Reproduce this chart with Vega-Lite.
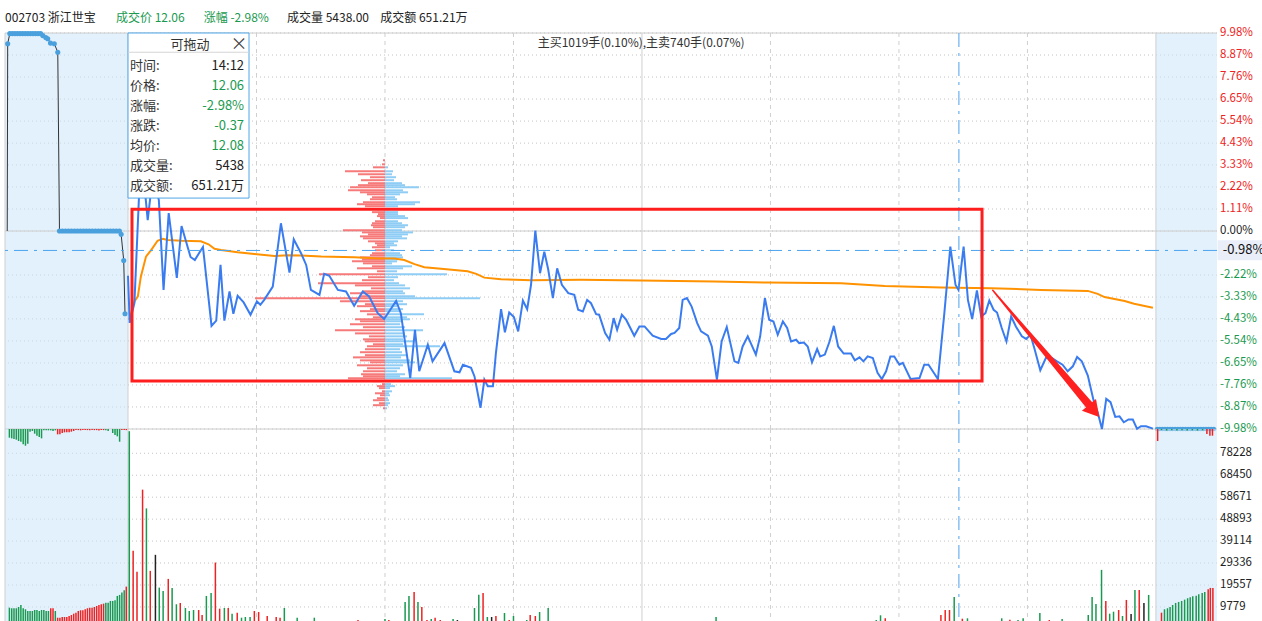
{
"$schema": "https://vega.github.io/schema/vega-lite/v6.json",
"padding": {"left": 4, "top": 12, "right": 0, "bottom": 0},
"spacing": 0,
"bounds": "flush",
"config": {"view": {"stroke": null}, "font": "Noto Sans CJK SC", "legend": {"disable": true}},
"datasets": {
"price": [{"t":0,"p":-2.26},{"t":0.4,"p":-4.63},{"t":1.5,"p":-3.62},{"t":2.6,"p":1.91},{"t":3.5,"p":3.07},{"t":4.6,"p":0.55},{"t":5.8,"p":2.82},{"t":7.2,"p":1.56},{"t":8.3,"p":-2.97},{"t":9.5,"p":0.9},{"t":11.4,"p":-2.36},{"t":12.5,"p":0.25},{"t":14.6,"p":-1.31},{"t":15.6,"p":-1.46},{"t":17.5,"p":-0.8},{"t":19.5,"p":-4.78},{"t":20.6,"p":-4.52},{"t":21.6,"p":-1.71},{"t":22.5,"p":-4.52},{"t":23.7,"p":-3.05},{"t":24.6,"p":-4.17},{"t":25.6,"p":-3.27},{"t":27.0,"p":-3.6},{"t":28.6,"p":-4.22},{"t":30.1,"p":-3.55},{"t":30.9,"p":-3.72},{"t":31.8,"p":-3.47},{"t":33.8,"p":-2.8},{"t":35.7,"p":0.39},{"t":37.7,"p":-2.1},{"t":38.7,"p":-0.42},{"t":39.6,"p":-0.79},{"t":40.4,"p":-1.12},{"t":41.6,"p":-1.71},{"t":42.7,"p":-2.97},{"t":44.7,"p":-3.22},{"t":45.8,"p":-2.16},{"t":47.0,"p":-2.26},{"t":49.0,"p":-2.97},{"t":50.9,"p":-3.05},{"t":52.8,"p":-3.77},{"t":54.8,"p":-3.05},{"t":56.3,"p":-3.3},{"t":58.3,"p":-4.14},{"t":59.8,"p":-4.44},{"t":62.6,"p":-3.52},{"t":63.7,"p":-4.14},{"t":65.9,"p":-7.41},{"t":67.0,"p":-4.98},{"t":68.0,"p":-7.07},{"t":70.0,"p":-5.73},{"t":71.1,"p":-6.57},{"t":73.9,"p":-5.65},{"t":76.2,"p":-7.07},{"t":77.4,"p":-7.12},{"t":78.2,"p":-6.74},{"t":80.1,"p":-6.9},{"t":80.9,"p":-7.33},{"t":82.3,"p":-8.91},{"t":83.2,"p":-7.49},{"t":84.0,"p":-7.83},{"t":85.2,"p":-7.83},{"t":85.9,"p":-6.15},{"t":87.1,"p":-3.94},{"t":88.0,"p":-5.11},{"t":89.0,"p":-4.11},{"t":90.1,"p":-4.34},{"t":91.1,"p":-5.06},{"t":92.2,"p":-3.5},{"t":93.2,"p":-3.94},{"t":94.1,"p":-2.71},{"t":95.1,"p":0.02},{"t":96.2,"p":-2.13},{"t":97.2,"p":-1.04},{"t":98.1,"p":-1.93},{"t":99.2,"p":-3.38},{"t":100.2,"p":-1.88},{"t":101.3,"p":-2.71},{"t":102.8,"p":-3.13},{"t":104.2,"p":-3.22},{"t":105.1,"p":-3.97},{"t":106.2,"p":-4.06},{"t":107.2,"p":-3.47},{"t":108.1,"p":-3.64},{"t":109.3,"p":-4.19},{"t":110.0,"p":-4.22},{"t":111.4,"p":-5.14},{"t":112.4,"p":-5.48},{"t":113.4,"p":-4.39},{"t":114.2,"p":-4.98},{"t":115.3,"p":-4.22},{"t":116.3,"p":-4.47},{"t":118.2,"p":-5.28},{"t":119.4,"p":-4.81},{"t":120.6,"p":-4.81},{"t":122.5,"p":-5.28},{"t":124.5,"p":-5.44},{"t":125.6,"p":-5.44},{"t":126.8,"p":-5.19},{"t":127.6,"p":-5.14},{"t":128.7,"p":-4.89},{"t":129.5,"p":-3.47},{"t":130.5,"p":-3.38},{"t":131.6,"p":-3.81},{"t":132.9,"p":-4.64},{"t":133.8,"p":-5.06},{"t":135.4,"p":-5.28},{"t":136.3,"p":-5.82},{"t":137.5,"p":-7.49},{"t":138.6,"p":-5.57},{"t":139.8,"p":-4.84},{"t":141.6,"p":-6.57},{"t":142.5,"p":-6.65},{"t":143.5,"p":-5.82},{"t":144.7,"p":-5.31},{"t":146.6,"p":-6.23},{"t":147.6,"p":-5.31},{"t":148.7,"p":-3.38},{"t":149.7,"p":-4.47},{"t":150.7,"p":-4.56},{"t":151.7,"p":-5.23},{"t":152.9,"p":-4.56},{"t":153.9,"p":-4.89},{"t":154.8,"p":-5.57},{"t":156.0,"p":-5.48},{"t":156.7,"p":-5.65},{"t":157.8,"p":-5.62},{"t":158.7,"p":-5.82},{"t":159.7,"p":-6.62},{"t":160.9,"p":-5.95},{"t":161.6,"p":-6.32},{"t":162.7,"p":-6.23},{"t":163.8,"p":-5.57},{"t":164.8,"p":-4.78},{"t":165.8,"p":-5.82},{"t":167.1,"p":-6.18},{"t":168.8,"p":-6.18},{"t":169.7,"p":-6.52},{"t":170.8,"p":-6.37},{"t":171.7,"p":-6.57},{"t":172.7,"p":-6.32},{"t":173.9,"p":-6.4},{"t":175.0,"p":-7.15},{"t":176.0,"p":-7.46},{"t":177.0,"p":-7.07},{"t":178.0,"p":-6.32},{"t":178.9,"p":-6.32},{"t":180.1,"p":-6.74},{"t":180.9,"p":-6.65},{"t":182.7,"p":-7.46},{"t":184.8,"p":-7.41},{"t":185.9,"p":-6.74},{"t":186.9,"p":-6.74},{"t":187.9,"p":-7.07},{"t":189.1,"p":-7.46},{"t":190.6,"p":-4.14},{"t":192.0,"p":-0.79},{"t":193.2,"p":-2.71},{"t":193.9,"p":-2.97},{"t":195.1,"p":-0.79},{"t":196.1,"p":-3.47},{"t":197.1,"p":-4.44},{"t":198.2,"p":-3.0},{"t":199.2,"p":-4.31},{"t":200.2,"p":-4.14},{"t":201.1,"p":-3.5},{"t":202.1,"p":-3.97},{"t":202.9,"p":-4.11},{"t":204.0,"p":-4.89},{"t":205.1,"p":-5.57},{"t":206.2,"p":-4.31},{"t":207.3,"p":-4.81},{"t":208.7,"p":-5.31},{"t":209.7,"p":-5.44},{"t":210.7,"p":-5.23},{"t":211.6,"p":-5.9},{"t":213.0,"p":-7.02},{"t":214.3,"p":-6.4},{"t":215.7,"p":-6.4},{"t":216.9,"p":-6.57},{"t":218.2,"p":-6.74},{"t":219.4,"p":-7.07},{"t":220.6,"p":-6.82},{"t":221.6,"p":-6.35},{"t":222.7,"p":-6.57},{"t":224.1,"p":-7.29},{"t":225.4,"p":-8.5},{"t":226.4,"p":-9.14},{"t":227.4,"p":-9.98},{"t":228.4,"p":-8.46},{"t":229.4,"p":-8.63},{"t":230.5,"p":-9.37},{"t":231.5,"p":-9.34},{"t":232.5,"p":-9.64},{"t":233.6,"p":-9.5},{"t":234.6,"p":-9.5},{"t":235.6,"p":-9.97},{"t":236.5,"p":-9.84},{"t":237.7,"p":-9.84},{"t":239.3,"p":-9.96}],
"avg": [{"t":0.3,"p":-4.47},{"t":1.5,"p":-3.55},{"t":2.3,"p":-3.3},{"t":3.0,"p":-2.3},{"t":4.2,"p":-1.29},{"t":5.4,"p":-0.96},{"t":6.9,"p":-0.49},{"t":8.1,"p":-0.39},{"t":9.3,"p":-0.45},{"t":12.4,"p":-0.49},{"t":17.0,"p":-0.52},{"t":18.8,"p":-0.67},{"t":20.2,"p":-0.9},{"t":21.7,"p":-0.96},{"t":25.6,"p":-1.07},{"t":29.5,"p":-1.16},{"t":34.2,"p":-1.26},{"t":37.3,"p":-1.22},{"t":40.4,"p":-1.24},{"t":45.1,"p":-1.29},{"t":52.8,"p":-1.32},{"t":57.5,"p":-1.37},{"t":62.2,"p":-1.39},{"t":64.5,"p":-1.46},{"t":66.9,"p":-1.67},{"t":69.2,"p":-1.83},{"t":73.1,"p":-1.9},{"t":79.3,"p":-2.03},{"t":81.3,"p":-2.16},{"t":83.2,"p":-2.35},{"t":87.1,"p":-2.43},{"t":94.1,"p":-2.48},{"t":105.8,"p":-2.46},{"t":119.8,"p":-2.5},{"t":136.9,"p":-2.55},{"t":149.4,"p":-2.6},{"t":166.5,"p":-2.63},{"t":176.7,"p":-2.77},{"t":189.9,"p":-2.85},{"t":201.5,"p":-2.88},{"t":213.2,"p":-2.97},{"t":224.1,"p":-3.02},{"t":226.4,"p":-3.17},{"t":228.0,"p":-3.33},{"t":232.7,"p":-3.53},{"t":234.9,"p":-3.67},{"t":239.3,"p":-3.87}],
"auction": [{"t":-28.2,"p":0},{"t":-28.09,"p":9.44},{"t":-27.6,"p":9.95},{"t":-27.0,"p":9.95},{"t":-26.4,"p":9.95},{"t":-25.8,"p":9.95},{"t":-25.2,"p":9.95},{"t":-24.6,"p":9.95},{"t":-24.0,"p":9.95},{"t":-23.4,"p":9.95},{"t":-22.8,"p":9.95},{"t":-22.2,"p":9.95},{"t":-21.6,"p":9.95},{"t":-21.0,"p":9.95},{"t":-20.4,"p":9.95},{"t":-19.9,"p":9.85},{"t":-19.2,"p":9.75},{"t":-18.75,"p":9.69},{"t":-18.1,"p":9.47},{"t":-17.2,"p":9.44},{"t":-16.4,"p":9.01},{"t":-16.0,"p":0},{"t":-15.3,"p":0},{"t":-14.6,"p":0},{"t":-13.9,"p":0},{"t":-13.2,"p":0},{"t":-12.5,"p":0},{"t":-11.8,"p":0},{"t":-11.1,"p":0},{"t":-10.4,"p":0},{"t":-9.7,"p":0},{"t":-9.0,"p":0},{"t":-8.3,"p":0},{"t":-7.6,"p":0},{"t":-6.9,"p":0},{"t":-6.2,"p":0},{"t":-5.5,"p":0},{"t":-4.8,"p":0},{"t":-4.1,"p":0},{"t":-3.4,"p":0},{"t":-2.7,"p":0},{"t":-2.0,"p":0},{"t":-1.6,"p":-0.17},{"t":-1.0,"p":-1.49},{"t":-0.7,"p":-4.17}],
"after": [{"t":240.3,"p":-9.98},{"t":240.9,"p":-9.98},{"t":241.5,"p":-9.98},{"t":242.1,"p":-9.98},{"t":242.7,"p":-9.98},{"t":243.3,"p":-9.98},{"t":243.9,"p":-9.98},{"t":244.5,"p":-9.98},{"t":245.1,"p":-9.98},{"t":245.7,"p":-9.98},{"t":246.3,"p":-9.98},{"t":246.9,"p":-9.98},{"t":247.5,"p":-9.98},{"t":248.1,"p":-9.98},{"t":248.7,"p":-9.98},{"t":249.3,"p":-9.98},{"t":249.9,"p":-9.98},{"t":250.5,"p":-9.98},{"t":251.1,"p":-9.98},{"t":251.7,"p":-9.98},{"t":252.3,"p":-9.98},{"t":252.9,"p":-9.98},{"t":253.5,"p":-9.98}],
"profile": [{"p":3.56,"sell":80,"buy":0},{"p":3.36,"sell":120,"buy":0},{"p":3.21,"sell":480,"buy":120},{"p":3.01,"sell":1600,"buy":320},{"p":2.86,"sell":1080,"buy":280},{"p":2.71,"sell":600,"buy":440},{"p":2.56,"sell":960,"buy":360},{"p":2.41,"sell":680,"buy":680},{"p":2.31,"sell":1080,"buy":800},{"p":2.2,"sell":1400,"buy":1360},{"p":2.05,"sell":1480,"buy":720},{"p":1.95,"sell":1000,"buy":920},{"p":1.85,"sell":720,"buy":600},{"p":1.7,"sell":520,"buy":400},{"p":1.6,"sell":600,"buy":480},{"p":1.45,"sell":880,"buy":1400},{"p":1.35,"sell":1120,"buy":1200},{"p":1.25,"sell":800,"buy":520},{"p":1.1,"sell":320,"buy":200},{"p":0.95,"sell":520,"buy":520},{"p":0.85,"sell":280,"buy":520},{"p":0.75,"sell":320,"buy":800},{"p":0.65,"sell":200,"buy":920},{"p":0.49,"sell":400,"buy":520},{"p":0.39,"sell":520,"buy":680},{"p":0.29,"sell":560,"buy":920},{"p":0.19,"sell":480,"buy":800},{"p":0.04,"sell":1680,"buy":680},{"p":-0.07,"sell":920,"buy":1120},{"p":-0.17,"sell":680,"buy":920},{"p":-0.27,"sell":1000,"buy":680},{"p":-0.37,"sell":880,"buy":880},{"p":-0.52,"sell":680,"buy":520},{"p":-0.62,"sell":400,"buy":360},{"p":-0.72,"sell":320,"buy":480},{"p":-0.82,"sell":520,"buy":200},{"p":-0.97,"sell":400,"buy":360},{"p":-1.12,"sell":520,"buy":600},{"p":-1.22,"sell":600,"buy":680},{"p":-1.33,"sell":1000,"buy":720},{"p":-1.43,"sell":920,"buy":520},{"p":-1.53,"sell":1320,"buy":480},{"p":-1.63,"sell":880,"buy":280},{"p":-1.78,"sell":520,"buy":1080},{"p":-1.88,"sell":1120,"buy":720},{"p":-2.03,"sell":320,"buy":480},{"p":-2.18,"sell":2640,"buy":2480},{"p":-2.33,"sell":680,"buy":520},{"p":-2.48,"sell":920,"buy":360},{"p":-2.63,"sell":2680,"buy":560},{"p":-2.74,"sell":1200,"buy":800},{"p":-2.89,"sell":560,"buy":1000},{"p":-3.04,"sell":880,"buy":720},{"p":-3.14,"sell":1400,"buy":800},{"p":-3.29,"sell":1000,"buy":1200},{"p":-3.39,"sell":5200,"buy":3800},{"p":-3.54,"sell":1800,"buy":720},{"p":-3.69,"sell":800,"buy":880},{"p":-3.79,"sell":1120,"buy":480},{"p":-3.94,"sell":600,"buy":720},{"p":-4.04,"sell":1000,"buy":600},{"p":-4.2,"sell":720,"buy":1560},{"p":-4.35,"sell":480,"buy":880},{"p":-4.45,"sell":1200,"buy":1000},{"p":-4.55,"sell":1000,"buy":720},{"p":-4.7,"sell":1400,"buy":600},{"p":-4.85,"sell":880,"buy":800},{"p":-5.0,"sell":2000,"buy":1520},{"p":-5.16,"sell":1200,"buy":800},{"p":-5.31,"sell":640,"buy":880},{"p":-5.46,"sell":880,"buy":720},{"p":-5.56,"sell":800,"buy":1120},{"p":-5.71,"sell":480,"buy":720},{"p":-5.81,"sell":720,"buy":2200},{"p":-5.96,"sell":800,"buy":600},{"p":-6.11,"sell":1000,"buy":680},{"p":-6.26,"sell":800,"buy":880},{"p":-6.37,"sell":1280,"buy":640},{"p":-6.52,"sell":1000,"buy":1000},{"p":-6.62,"sell":600,"buy":1200},{"p":-6.77,"sell":1120,"buy":720},{"p":-6.92,"sell":720,"buy":600},{"p":-7.07,"sell":880,"buy":480},{"p":-7.22,"sell":960,"buy":800},{"p":-7.32,"sell":880,"buy":600},{"p":-7.42,"sell":1480,"buy":2680},{"p":-7.57,"sell":520,"buy":360},{"p":-7.72,"sell":120,"buy":240},{"p":-7.82,"sell":320,"buy":400},{"p":-7.92,"sell":240,"buy":200},{"p":-8.08,"sell":120,"buy":280},{"p":-8.18,"sell":400,"buy":160},{"p":-8.28,"sell":200,"buy":200},{"p":-8.43,"sell":320,"buy":120},{"p":-8.53,"sell":480,"buy":160},{"p":-8.68,"sell":240,"buy":200},{"p":-8.78,"sell":480,"buy":120},{"p":-8.94,"sell":80,"buy":80}],
"vol": [{"t":0.3,"vol":88050,"dir":"跌"},{"t":1.2,"vol":34783,"dir":"涨"},{"t":2.1,"vol":25406,"dir":"涨"},{"t":3.4,"vol":62019,"dir":"涨"},{"t":4.3,"vol":53669,"dir":"跌"},{"t":5.2,"vol":25852,"dir":"涨"},{"t":6.4,"vol":32996,"dir":"平"},{"t":7.3,"vol":18396,"dir":"跌"},{"t":8.2,"vol":16922,"dir":"跌"},{"t":9.4,"vol":22280,"dir":"涨"},{"t":10.3,"vol":18262,"dir":"跌"},{"t":11.3,"vol":10984,"dir":"跌"},{"t":12.2,"vol":11564,"dir":"涨"},{"t":13.4,"vol":9332,"dir":"跌"},{"t":14.3,"vol":7992,"dir":"跌"},{"t":15.3,"vol":8439,"dir":"跌"},{"t":16.5,"vol":8439,"dir":"涨"},{"t":17.3,"vol":6206,"dir":"涨"},{"t":18.3,"vol":14690,"dir":"跌"},{"t":19.4,"vol":16029,"dir":"跌"},{"t":20.4,"vol":29558,"dir":"涨"},{"t":21.4,"vol":9019,"dir":"涨"},{"t":22.5,"vol":9332,"dir":"跌"},{"t":23.4,"vol":9332,"dir":"涨"},{"t":24.3,"vol":6787,"dir":"跌"},{"t":25.5,"vol":7233,"dir":"涨"},{"t":26.5,"vol":5001,"dir":"跌"},{"t":27.4,"vol":5313,"dir":"跌"},{"t":28.5,"vol":5313,"dir":"跌"},{"t":29.5,"vol":7992,"dir":"涨"},{"t":30.5,"vol":7546,"dir":"涨"},{"t":32.5,"vol":5760,"dir":"涨"},{"t":33.4,"vol":3527,"dir":"涨"},{"t":34.6,"vol":5313,"dir":"涨"},{"t":35.5,"vol":5001,"dir":"涨"},{"t":36.5,"vol":9332,"dir":"跌"},{"t":37.4,"vol":3527,"dir":"跌"},{"t":38.5,"vol":3527,"dir":"涨"},{"t":39.5,"vol":5001,"dir":"跌"},{"t":43.5,"vol":5001,"dir":"跌"},{"t":44.6,"vol":3527,"dir":"跌"},{"t":49.5,"vol":3527,"dir":"跌"},{"t":52.7,"vol":3527,"dir":"跌"},{"t":53.7,"vol":3974,"dir":"涨"},{"t":60.0,"vol":4420,"dir":"跌"},{"t":60.9,"vol":3974,"dir":"涨"},{"t":64.7,"vol":12011,"dir":"跌"},{"t":65.6,"vol":14690,"dir":"跌"},{"t":66.8,"vol":16476,"dir":"涨"},{"t":67.7,"vol":12011,"dir":"跌"},{"t":68.6,"vol":9778,"dir":"涨"},{"t":69.8,"vol":3974,"dir":"涨"},{"t":70.8,"vol":4420,"dir":"跌"},{"t":71.7,"vol":5001,"dir":"涨"},{"t":72.9,"vol":3974,"dir":"涨"},{"t":75.9,"vol":4420,"dir":"跌"},{"t":76.9,"vol":3974,"dir":"平"},{"t":80.9,"vol":9332,"dir":"跌"},{"t":81.9,"vol":15270,"dir":"跌"},{"t":82.9,"vol":16029,"dir":"涨"},{"t":83.9,"vol":5313,"dir":"跌"},{"t":84.9,"vol":5313,"dir":"平"},{"t":85.9,"vol":5760,"dir":"涨"},{"t":87.9,"vol":7099,"dir":"跌"},{"t":89.0,"vol":3974,"dir":"涨"},{"t":90.0,"vol":5760,"dir":"跌"},{"t":93.1,"vol":3974,"dir":"跌"},{"t":93.9,"vol":6206,"dir":"涨"},{"t":95.1,"vol":5760,"dir":"涨"},{"t":96.1,"vol":7546,"dir":"跌"},{"t":98.1,"vol":9332,"dir":"跌"},{"t":137.3,"vol":5313,"dir":"跌"},{"t":174.7,"vol":3974,"dir":"跌"},{"t":175.7,"vol":6072,"dir":"跌"},{"t":176.8,"vol":4733,"dir":"涨"},{"t":182.5,"vol":3527,"dir":"跌"},{"t":189.8,"vol":6206,"dir":"涨"},{"t":190.8,"vol":8439,"dir":"涨"},{"t":191.8,"vol":8439,"dir":"涨"},{"t":192.9,"vol":14243,"dir":"跌"},{"t":194.8,"vol":4554,"dir":"涨"},{"t":196.0,"vol":4733,"dir":"跌"},{"t":204.0,"vol":4733,"dir":"跌"},{"t":205.9,"vol":4108,"dir":"涨"},{"t":207.8,"vol":3974,"dir":"跌"},{"t":209.0,"vol":4733,"dir":"跌"},{"t":212.9,"vol":7099,"dir":"跌"},{"t":215.1,"vol":3974,"dir":"涨"},{"t":218.1,"vol":4420,"dir":"跌"},{"t":224.2,"vol":6206,"dir":"跌"},{"t":225.1,"vol":14243,"dir":"跌"},{"t":226.0,"vol":11118,"dir":"跌"},{"t":227.3,"vol":26299,"dir":"跌"},{"t":228.3,"vol":12457,"dir":"涨"},{"t":229.2,"vol":6787,"dir":"跌"},{"t":230.1,"vol":7680,"dir":"跌"},{"t":231.3,"vol":8439,"dir":"涨"},{"t":232.2,"vol":5760,"dir":"跌"},{"t":233.1,"vol":12904,"dir":"涨"},{"t":234.2,"vol":6653,"dir":"平"},{"t":235.1,"vol":17369,"dir":"跌"},{"t":236.1,"vol":17369,"dir":"涨"},{"t":237.2,"vol":11564,"dir":"平"},{"t":238.3,"vol":15136,"dir":"跌"},
{"t":-27.69,"vol":9466,"dir":"跌"},{"t":-27.15,"vol":9198,"dir":"跌"},{"t":-26.62,"vol":9198,"dir":"跌"},{"t":-26.08,"vol":9198,"dir":"跌"},{"t":-25.55,"vol":9778,"dir":"跌"},{"t":-25.01,"vol":10671,"dir":"跌"},{"t":-24.47,"vol":9198,"dir":"跌"},{"t":-23.94,"vol":8751,"dir":"跌"},{"t":-23.4,"vol":7992,"dir":"跌"},{"t":-22.87,"vol":7992,"dir":"跌"},{"t":-22.33,"vol":7992,"dir":"跌"},{"t":-21.79,"vol":8439,"dir":"跌"},{"t":-21.26,"vol":8439,"dir":"跌"},{"t":-20.72,"vol":7992,"dir":"跌"},{"t":-20.19,"vol":8439,"dir":"跌"},{"t":-19.65,"vol":8439,"dir":"跌"},{"t":-19.11,"vol":7992,"dir":"跌"},{"t":-18.58,"vol":7992,"dir":"跌"},{"t":-18.04,"vol":9198,"dir":"涨"},{"t":-17.51,"vol":9198,"dir":"涨"},{"t":-16.97,"vol":7992,"dir":"跌"},{"t":-16.43,"vol":5001,"dir":"涨"},{"t":-15.9,"vol":5001,"dir":"涨"},{"t":-15.36,"vol":5313,"dir":"涨"},{"t":-14.83,"vol":5313,"dir":"涨"},{"t":-14.29,"vol":5313,"dir":"涨"},{"t":-13.75,"vol":5760,"dir":"涨"},{"t":-13.22,"vol":6206,"dir":"涨"},{"t":-12.68,"vol":6787,"dir":"涨"},{"t":-12.15,"vol":7233,"dir":"涨"},{"t":-11.61,"vol":7992,"dir":"涨"},{"t":-11.07,"vol":8305,"dir":"涨"},{"t":-10.54,"vol":8305,"dir":"涨"},{"t":-10.0,"vol":8751,"dir":"涨"},{"t":-9.47,"vol":9198,"dir":"涨"},{"t":-8.93,"vol":9466,"dir":"涨"},{"t":-8.39,"vol":9466,"dir":"涨"},{"t":-7.86,"vol":9778,"dir":"涨"},{"t":-7.32,"vol":10225,"dir":"涨"},{"t":-6.79,"vol":10671,"dir":"涨"},{"t":-6.25,"vol":10984,"dir":"涨"},{"t":-5.71,"vol":11252,"dir":"涨"},{"t":-5.18,"vol":11698,"dir":"跌"},{"t":-4.64,"vol":11698,"dir":"跌"},{"t":-4.11,"vol":12457,"dir":"跌"},{"t":-3.57,"vol":12457,"dir":"跌"},{"t":-3.03,"vol":12770,"dir":"跌"},{"t":-2.5,"vol":14690,"dir":"跌"},{"t":-1.96,"vol":15136,"dir":"跌"},{"t":-1.43,"vol":16163,"dir":"跌"},{"t":-0.89,"vol":17235,"dir":"跌"},{"t":-0.4,"vol":18842,"dir":"涨"},
{"t":241.3,"vol":7233,"dir":"涨"},{"t":242.0,"vol":8751,"dir":"跌"},{"t":242.7,"vol":9198,"dir":"跌"},{"t":243.3,"vol":9778,"dir":"跌"},{"t":243.9,"vol":10671,"dir":"跌"},{"t":244.6,"vol":11564,"dir":"跌"},{"t":245.3,"vol":12011,"dir":"跌"},{"t":246.0,"vol":12457,"dir":"跌"},{"t":246.7,"vol":13038,"dir":"跌"},{"t":247.4,"vol":13663,"dir":"跌"},{"t":248.0,"vol":14110,"dir":"跌"},{"t":248.6,"vol":14556,"dir":"跌"},{"t":249.4,"vol":14824,"dir":"跌"},{"t":250.0,"vol":15449,"dir":"跌"},{"t":250.8,"vol":16029,"dir":"跌"},{"t":251.4,"vol":16476,"dir":"跌"},{"t":252.2,"vol":17681,"dir":"涨"},{"t":252.7,"vol":18262,"dir":"涨"},{"t":253.3,"vol":18262,"dir":"涨"}],
"hang": [{"t":-27.69,"vol":3870,"dir":"跌"},{"t":-27.15,"vol":4168,"dir":"跌"},{"t":-26.62,"vol":4465,"dir":"跌"},{"t":-26.08,"vol":4763,"dir":"跌"},{"t":-25.55,"vol":5358,"dir":"跌"},{"t":-25.01,"vol":5656,"dir":"跌"},{"t":-24.47,"vol":6846,"dir":"跌"},{"t":-23.94,"vol":7442,"dir":"跌"},{"t":-23.4,"vol":6549,"dir":"跌"},{"t":-22.87,"vol":1191,"dir":"跌"},{"t":-22.33,"vol":893,"dir":"跌"},{"t":-21.79,"vol":2084,"dir":"跌"},{"t":-21.26,"vol":2977,"dir":"跌"},{"t":-20.72,"vol":3572,"dir":"跌"},{"t":-20.19,"vol":4168,"dir":"跌"},{"t":-19.65,"vol":595,"dir":"跌"},{"t":-19.11,"vol":595,"dir":"跌"},{"t":-18.58,"vol":595,"dir":"跌"},{"t":-18.04,"vol":595,"dir":"跌"},{"t":-17.51,"vol":893,"dir":"跌"},{"t":-16.97,"vol":595,"dir":"跌"},{"t":-16.43,"vol":2381,"dir":"涨"},{"t":-15.9,"vol":2381,"dir":"涨"},{"t":-15.36,"vol":1786,"dir":"涨"},{"t":-14.83,"vol":1488,"dir":"涨"},{"t":-14.29,"vol":1488,"dir":"涨"},{"t":-13.75,"vol":1488,"dir":"涨"},{"t":-13.22,"vol":1191,"dir":"涨"},{"t":-12.68,"vol":893,"dir":"涨"},{"t":-12.15,"vol":500,"dir":"涨"},{"t":-11.61,"vol":500,"dir":"涨"},{"t":-11.07,"vol":600,"dir":"涨"},{"t":-10.54,"vol":500,"dir":"涨"},{"t":-10.0,"vol":500,"dir":"涨"},{"t":-9.47,"vol":500,"dir":"涨"},{"t":-8.93,"vol":600,"dir":"涨"},{"t":-8.39,"vol":500,"dir":"涨"},{"t":-7.86,"vol":500,"dir":"涨"},{"t":-7.32,"vol":500,"dir":"涨"},{"t":-6.79,"vol":700,"dir":"涨"},{"t":-6.25,"vol":500,"dir":"涨"},{"t":-5.71,"vol":500,"dir":"涨"},{"t":-5.18,"vol":595,"dir":"跌"},{"t":-4.64,"vol":893,"dir":"跌"},{"t":-3.57,"vol":1786,"dir":"跌"},{"t":-3.03,"vol":2679,"dir":"跌"},{"t":-2.5,"vol":3274,"dir":"跌"},{"t":-1.96,"vol":5656,"dir":"跌"},{"t":-1.43,"vol":500,"dir":"涨"},{"t":-0.89,"vol":500,"dir":"涨"},{"t":-0.4,"vol":500,"dir":"涨"},{"t":240.4,"vol":5358,"dir":"涨"},{"t":241.3,"vol":500,"dir":"跌"},{"t":242.5,"vol":700,"dir":"跌"},{"t":243.7,"vol":600,"dir":"跌"},{"t":244.9,"vol":700,"dir":"跌"},{"t":246.1,"vol":600,"dir":"跌"},{"t":247.3,"vol":700,"dir":"跌"},{"t":248.5,"vol":600,"dir":"跌"},{"t":249.7,"vol":700,"dir":"跌"},{"t":250.9,"vol":600,"dir":"跌"},{"t":251.9,"vol":2232,"dir":"涨"},{"t":252.6,"vol":2977,"dir":"涨"},{"t":253.2,"vol":2977,"dir":"涨"}],
"pticks": [{"p":9.98,"label":"9.98%","dir":"涨"},{"p":8.87,"label":"8.87%","dir":"涨"},{"p":7.76,"label":"7.76%","dir":"涨"},{"p":6.65,"label":"6.65%","dir":"涨"},{"p":5.54,"label":"5.54%","dir":"涨"},{"p":4.43,"label":"4.43%","dir":"涨"},{"p":3.33,"label":"3.33%","dir":"涨"},{"p":2.22,"label":"2.22%","dir":"涨"},{"p":1.11,"label":"1.11%","dir":"涨"},{"p":0,"label":"0.00%","dir":"平"},{"p":-2.22,"label":"-2.22%","dir":"跌"},{"p":-3.33,"label":"-3.33%","dir":"跌"},{"p":-4.43,"label":"-4.43%","dir":"跌"},{"p":-5.54,"label":"-5.54%","dir":"跌"},{"p":-6.65,"label":"-6.65%","dir":"跌"},{"p":-7.76,"label":"-7.76%","dir":"跌"},{"p":-8.87,"label":"-8.87%","dir":"跌"},{"p":-9.98,"label":"-9.98%","dir":"跌"}],
"vticks": [{"vol":9779},{"vol":19557},{"vol":29336},{"vol":39114},{"vol":48893},{"vol":58671},{"vol":68450},{"vol":78228}],
"zones": [{"t":-28.72,"t2":0},{"t":240,"t2":254.26}],
"vlines": [{"t":-28.72,"style":"实线"},{"t":0,"style":"实线"},{"t":30,"style":"虚线"},{"t":60,"style":"虚线"},{"t":90,"style":"虚线"},{"t":120,"style":"实线"},{"t":150,"style":"虚线"},{"t":180,"style":"虚线"},{"t":210,"style":"虚线"},{"t":240,"style":"实线"}],
"hlines": [{"p":9.98},{"p":0},{"p":-9.98}],
"cross": [{"t":194,"p":-0.98}],
"box": [{"t":0.93,"t2":199.4,"p":1.09,"p2":-7.56}],
"arrow": [{"t":201.9,"p":-2.99,"seq":0},{"t":224.35,"p":-8.75,"seq":1}],
"arrowhead": [{"t":225.56,"p":-9.07}],
"tipbox": [{"t":0,"t2":28.25,"p":9.98,"p2":1.66}],
"tipsep": [{"t":0,"t2":28.25,"p":9.01}],
"tiprows": [{"p":8.3,"label":"时间:","value":"14:12","dir":"平"},{"p":7.29,"label":"价格:","value":"12.06","dir":"跌"},{"p":6.28,"label":"涨幅:","value":"-2.98%","dir":"跌"},{"p":5.28,"label":"涨跌:","value":"-0.37","dir":"跌"},{"p":4.27,"label":"均价:","value":"12.08","dir":"跌"},{"p":3.26,"label":"成交量:","value":"5438","dir":"平"},{"p":2.26,"label":"成交额:","value":"651.21万","dir":"平"}],
"header": [{"t":-28.7,"label":"002703 浙江世宝","dir":"平"},{"t":-2.8,"label":"成交价 12.06","dir":"跌"},{"t":17.67,"label":"涨幅 -2.98%","dir":"跌"},{"t":37.12,"label":"成交量 5438.00","dir":"平"},{"t":58.9,"label":"成交额 651.21万","dir":"平"}]
},
"vconcat": [
{
"width": 1212, "height": 396,
"resolve": {"scale": {"x": "independent"}},
"layer": [
{"layer": [
 {"data": {"name": "pticks"}, "mark": {"type": "rule", "color": "#c4c4c4", "strokeWidth": 1, "strokeDash": [1, 3]},
  "encoding": {"y": {"field": "p", "type": "quantitative", "scale": {"domain": [-9.98, 9.98], "nice": false, "zero": false}, "axis": null}}},
 {"data": {"name": "zones"}, "mark": {"type": "rect", "color": "#cce5fb", "opacity": 0.55},
  "encoding": {"x": {"field": "t", "type": "quantitative", "scale": {"domain": [-28.72, 254.26], "nice": false, "zero": false}, "axis": null}, "x2": {"field": "t2"},
   "y": {"datum": 9.98, "type": "quantitative", "scale": {"domain": [-9.98, 9.98], "nice": false, "zero": false}, "axis": null}, "y2": {"datum": -9.98}}},
 {"data": {"name": "hlines"}, "mark": {"type": "rule", "color": "#cccccc", "strokeWidth": 1},
  "encoding": {"y": {"field": "p", "type": "quantitative", "scale": {"domain": [-9.98, 9.98], "nice": false, "zero": false}, "axis": null}}},
 {"data": {"name": "vlines"}, "mark": {"type": "rule", "color": "#cfcfcf", "strokeWidth": 1},
  "encoding": {"x": {"field": "t", "type": "quantitative", "scale": {"domain": [-28.72, 254.26], "nice": false, "zero": false}, "axis": null},
   "strokeDash": {"field": "style", "type": "nominal", "scale": {"domain": ["实线", "虚线"], "range": [[1, 0], [4, 4]]}, "legend": null}}},
 {"data": {"name": "pticks"}, "mark": {"type": "text", "fontSize": 11.5, "align": "left", "baseline": "middle", "dx": 3},
  "encoding": {"x": {"datum": 254.26, "type": "quantitative", "scale": {"domain": [-28.72, 254.26], "nice": false, "zero": false}, "axis": null},
   "y": {"field": "p", "type": "quantitative", "scale": {"domain": [-9.98, 9.98], "nice": false, "zero": false}, "axis": null}, "text": {"field": "label"},
   "color": {"field": "dir", "type": "nominal", "scale": {"domain": ["涨", "跌", "平"], "range": ["#ee2222", "#1a9a50", "#222222"]}, "legend": null}}}
]},
{"data": {"name": "profile"}, "mark": {"type": "rule", "color": "#f77a7a", "strokeWidth": 2},
 "encoding": {"x": {"field": "sell", "type": "quantitative", "scale": {"domain": [-33280, 15200], "reverse": true, "nice": false, "zero": false}, "axis": null}, "x2": {"datum": 0},
  "y": {"field": "p", "type": "quantitative", "scale": {"domain": [-9.98, 9.98], "nice": false, "zero": false}, "axis": null}}},
{"data": {"name": "profile"}, "mark": {"type": "rule", "color": "#8fcdf5", "strokeWidth": 2},
 "encoding": {"x": {"field": "buy", "type": "quantitative", "scale": {"domain": [-15200, 33280], "nice": false, "zero": false}, "axis": null}, "x2": {"datum": 0},
  "y": {"field": "p", "type": "quantitative", "scale": {"domain": [-9.98, 9.98], "nice": false, "zero": false}, "axis": null}}},
{"layer": [
 {"data": {"name": "avg"}, "mark": {"type": "line", "color": "#ff9200", "strokeWidth": 2},
  "encoding": {"x": {"field": "t", "type": "quantitative", "scale": {"domain": [-28.72, 254.26], "nice": false, "zero": false}, "axis": null},
   "y": {"field": "p", "type": "quantitative", "scale": {"domain": [-9.98, 9.98], "nice": false, "zero": false}, "axis": null}}},
 {"data": {"name": "price"}, "mark": {"type": "line", "color": "#3a7cf0", "strokeWidth": 2},
  "encoding": {"x": {"field": "t", "type": "quantitative", "scale": {"domain": [-28.72, 254.26], "nice": false, "zero": false}, "axis": null},
   "y": {"field": "p", "type": "quantitative", "scale": {"domain": [-9.98, 9.98], "nice": false, "zero": false}, "axis": null}}},
 {"data": {"name": "auction"}, "mark": {"type": "line", "color": "#333333", "strokeWidth": 1},
  "encoding": {"x": {"field": "t", "type": "quantitative", "scale": {"domain": [-28.72, 254.26], "nice": false, "zero": false}, "axis": null},
   "y": {"field": "p", "type": "quantitative", "scale": {"domain": [-9.98, 9.98], "nice": false, "zero": false}, "axis": null}}},
 {"data": {"name": "auction"}, "transform": [{"filter": "datum.t > -28.15"}], "mark": {"type": "point", "filled": true, "color": "#4aa0dc", "size": 26, "opacity": 1},
  "encoding": {"x": {"field": "t", "type": "quantitative", "scale": {"domain": [-28.72, 254.26], "nice": false, "zero": false}, "axis": null},
   "y": {"field": "p", "type": "quantitative", "scale": {"domain": [-9.98, 9.98], "nice": false, "zero": false}, "axis": null}}},
 {"data": {"name": "after"}, "mark": {"type": "point", "filled": true, "color": "#4aa0dc", "size": 22, "opacity": 1},
  "encoding": {"x": {"field": "t", "type": "quantitative", "scale": {"domain": [-28.72, 254.26], "nice": false, "zero": false}, "axis": null},
   "y": {"field": "p", "type": "quantitative", "scale": {"domain": [-9.98, 9.98], "nice": false, "zero": false}, "axis": null}}},
 {"data": {"name": "cross"}, "mark": {"type": "rule", "color": "#4aa3ef", "strokeWidth": 1, "strokeDash": [14, 6, 3, 6]},
  "encoding": {"x": {"field": "t", "type": "quantitative", "scale": {"domain": [-28.72, 254.26], "nice": false, "zero": false}, "axis": null}}},
 {"data": {"name": "cross"}, "mark": {"type": "rule", "color": "#4aa3ef", "strokeWidth": 1, "strokeDash": [14, 6, 3, 6]},
  "encoding": {"y": {"field": "p", "type": "quantitative", "scale": {"domain": [-9.98, 9.98], "nice": false, "zero": false}, "axis": null}}},
 {"data": {"name": "box"}, "mark": {"type": "rect", "fill": null, "fillOpacity": 0, "stroke": "#ff1e1e", "strokeWidth": 3},
  "encoding": {"x": {"field": "t", "type": "quantitative", "scale": {"domain": [-28.72, 254.26], "nice": false, "zero": false}, "axis": null}, "x2": {"field": "t2"},
   "y": {"field": "p", "type": "quantitative", "scale": {"domain": [-9.98, 9.98], "nice": false, "zero": false}, "axis": null}, "y2": {"field": "p2"}}},
 {"data": {"name": "arrow"}, "mark": {"type": "trail", "color": "#ff2020"},
  "encoding": {"x": {"field": "t", "type": "quantitative", "scale": {"domain": [-28.72, 254.26], "nice": false, "zero": false}, "axis": null},
   "y": {"field": "p", "type": "quantitative", "scale": {"domain": [-9.98, 9.98], "nice": false, "zero": false}, "axis": null},
   "size": {"field": "seq", "type": "quantitative", "scale": {"domain": [0, 1], "range": [1.5, 8]}, "legend": null}}},
 {"data": {"name": "arrowhead"}, "mark": {"type": "point", "shape": "triangle-down", "filled": true, "color": "#ff2020", "size": 340, "angle": 320, "opacity": 1},
  "encoding": {"x": {"field": "t", "type": "quantitative", "scale": {"domain": [-28.72, 254.26], "nice": false, "zero": false}, "axis": null},
   "y": {"field": "p", "type": "quantitative", "scale": {"domain": [-9.98, 9.98], "nice": false, "zero": false}, "axis": null}}},
 {"data": {"name": "tipbox"}, "mark": {"type": "rect", "fill": "#ffffff", "stroke": "#4fa6ea", "strokeWidth": 1},
  "encoding": {"x": {"field": "t", "type": "quantitative", "scale": {"domain": [-28.72, 254.26], "nice": false, "zero": false}, "axis": null}, "x2": {"field": "t2"},
   "y": {"field": "p", "type": "quantitative", "scale": {"domain": [-9.98, 9.98], "nice": false, "zero": false}, "axis": null}, "y2": {"field": "p2"}}},
 {"data": {"name": "tipsep"}, "mark": {"type": "rule", "color": "#d6d6d6", "strokeWidth": 1},
  "encoding": {"x": {"field": "t", "type": "quantitative", "scale": {"domain": [-28.72, 254.26], "nice": false, "zero": false}, "axis": null}, "x2": {"field": "t2"},
   "y": {"field": "p", "type": "quantitative", "scale": {"domain": [-9.98, 9.98], "nice": false, "zero": false}, "axis": null}}},
 {"data": {"values": [{"label": "可拖动"}]}, "mark": {"type": "text", "fontSize": 13, "color": "#333333", "align": "center", "baseline": "middle"},
  "encoding": {"x": {"datum": 14.48, "type": "quantitative", "scale": {"domain": [-28.72, 254.26], "nice": false, "zero": false}, "axis": null},
   "y": {"datum": 9.36, "type": "quantitative", "scale": {"domain": [-9.98, 9.98], "nice": false, "zero": false}, "axis": null}, "text": {"field": "label"}}},
 {"data": {"values": [{"label": "×"}]}, "mark": {"type": "text", "fontSize": 17, "color": "#444444", "align": "center", "baseline": "middle"},
  "encoding": {"x": {"datum": 25.92, "type": "quantitative", "scale": {"domain": [-28.72, 254.26], "nice": false, "zero": false}, "axis": null},
   "y": {"datum": 9.38, "type": "quantitative", "scale": {"domain": [-9.98, 9.98], "nice": false, "zero": false}, "axis": null}, "text": {"field": "label"}}},
 {"data": {"name": "tiprows"}, "mark": {"type": "text", "fontSize": 13, "color": "#333333", "align": "left", "baseline": "middle"},
  "encoding": {"x": {"datum": 0.47, "type": "quantitative", "scale": {"domain": [-28.72, 254.26], "nice": false, "zero": false}, "axis": null},
   "y": {"field": "p", "type": "quantitative", "scale": {"domain": [-9.98, 9.98], "nice": false, "zero": false}, "axis": null}, "text": {"field": "label"}}},
 {"data": {"name": "tiprows"}, "mark": {"type": "text", "fontSize": 13, "align": "right", "baseline": "middle"},
  "encoding": {"x": {"datum": 27.1, "type": "quantitative", "scale": {"domain": [-28.72, 254.26], "nice": false, "zero": false}, "axis": null},
   "y": {"field": "p", "type": "quantitative", "scale": {"domain": [-9.98, 9.98], "nice": false, "zero": false}, "axis": null}, "text": {"field": "value"},
   "color": {"field": "dir", "type": "nominal", "scale": {"domain": ["涨", "跌", "平"], "range": ["#ee2222", "#1a9a50", "#222222"]}, "legend": null}}},
 {"data": {"name": "header"}, "mark": {"type": "text", "fontSize": 12, "align": "left", "baseline": "middle"},
  "encoding": {"x": {"field": "t", "type": "quantitative", "scale": {"domain": [-28.72, 254.26], "nice": false, "zero": false}, "axis": null},
   "y": {"datum": 10.72, "type": "quantitative", "scale": {"domain": [-9.98, 9.98], "nice": false, "zero": false}, "axis": null}, "text": {"field": "label"},
   "color": {"field": "dir", "type": "nominal", "scale": {"domain": ["涨", "跌", "平"], "range": ["#ee2222", "#1a9a50", "#222222"]}, "legend": null}}},
 {"data": {"values": [{"label": "主买1019手(0.10%),主卖740手(0.07%)"}]}, "mark": {"type": "text", "fontSize": 12, "color": "#333333", "align": "center", "baseline": "middle"},
  "encoding": {"x": {"datum": 119.8, "type": "quantitative", "scale": {"domain": [-28.72, 254.26], "nice": false, "zero": false}, "axis": null},
   "y": {"datum": 9.5, "type": "quantitative", "scale": {"domain": [-9.98, 9.98], "nice": false, "zero": false}, "axis": null}, "text": {"field": "label"}}},
 {"data": {"values": [{"t": 254.4, "t2": 265.2, "p": -0.47, "p2": -1.48}]}, "mark": {"type": "rect", "fill": "#e9eef8"},
  "encoding": {"x": {"field": "t", "type": "quantitative", "scale": {"domain": [-28.72, 254.26], "nice": false, "zero": false}, "axis": null}, "x2": {"field": "t2"},
   "y": {"field": "p", "type": "quantitative", "scale": {"domain": [-9.98, 9.98], "nice": false, "zero": false}, "axis": null}, "y2": {"field": "p2"}}},
 {"data": {"values": [{"label": "-0.98%"}]}, "mark": {"type": "text", "fontSize": 13, "color": "#111111", "align": "left", "baseline": "middle"},
  "encoding": {"x": {"datum": 255.6, "type": "quantitative", "scale": {"domain": [-28.72, 254.26], "nice": false, "zero": false}, "axis": null},
   "y": {"datum": -0.98, "type": "quantitative", "scale": {"domain": [-9.98, 9.98], "nice": false, "zero": false}, "axis": null}, "text": {"field": "label"}}}
]}
]
},
{
"width": 1212, "height": 193,
"resolve": {"scale": {"y": "independent"}},
"layer": [
{"layer": [
 {"data": {"name": "vticks"}, "mark": {"type": "rule", "color": "#c4c4c4", "strokeWidth": 1, "strokeDash": [1, 3]},
  "encoding": {"y": {"field": "vol", "type": "quantitative", "scale": {"domain": [3081, 89032], "nice": false, "zero": false}, "axis": null}}},
 {"data": {"name": "zones"}, "mark": {"type": "rect", "color": "#cce5fb", "opacity": 0.55},
  "encoding": {"x": {"field": "t", "type": "quantitative", "scale": {"domain": [-28.72, 254.26], "nice": false, "zero": false}, "axis": null}, "x2": {"field": "t2"},
   "y": {"datum": 89032, "type": "quantitative", "scale": {"domain": [3081, 89032], "nice": false, "zero": false}, "axis": null}, "y2": {"datum": 3081}}},
 {"data": {"name": "vlines"}, "mark": {"type": "rule", "color": "#cfcfcf", "strokeWidth": 1},
  "encoding": {"x": {"field": "t", "type": "quantitative", "scale": {"domain": [-28.72, 254.26], "nice": false, "zero": false}, "axis": null},
   "strokeDash": {"field": "style", "type": "nominal", "scale": {"domain": ["实线", "虚线"], "range": [[1, 0], [4, 4]]}, "legend": null}}},
 {"data": {"name": "cross"}, "mark": {"type": "rule", "color": "#4aa3ef", "strokeWidth": 1, "strokeDash": [14, 6, 3, 6]},
  "encoding": {"x": {"field": "t", "type": "quantitative", "scale": {"domain": [-28.72, 254.26], "nice": false, "zero": false}, "axis": null}}},
 {"data": {"name": "vol"}, "mark": {"type": "rule", "strokeWidth": 1.5, "clip": true},
  "encoding": {"x": {"field": "t", "type": "quantitative", "scale": {"domain": [-28.72, 254.26], "nice": false, "zero": false}, "axis": null},
   "y": {"field": "vol", "type": "quantitative", "scale": {"domain": [3081, 89032], "nice": false, "zero": false}, "axis": null}, "y2": {"datum": 0},
   "color": {"field": "dir", "type": "nominal", "scale": {"domain": ["涨", "跌", "平"], "range": ["#ee1c1c", "#17893a", "#222222"]}, "legend": null}}},
 {"data": {"name": "vticks"}, "mark": {"type": "text", "fontSize": 11.5, "align": "left", "baseline": "middle", "dx": 3, "color": "#222222"},
  "encoding": {"x": {"datum": 254.26, "type": "quantitative", "scale": {"domain": [-28.72, 254.26], "nice": false, "zero": false}, "axis": null},
   "y": {"field": "vol", "type": "quantitative", "scale": {"domain": [3081, 89032], "nice": false, "zero": false}, "axis": null}, "text": {"field": "vol", "format": "d"}}}
]},
{"data": {"name": "hang"}, "mark": {"type": "rule", "strokeWidth": 1.5},
 "encoding": {"x": {"field": "t", "type": "quantitative", "scale": {"domain": [-28.72, 254.26], "nice": false, "zero": false}, "axis": null},
  "y": {"field": "vol", "type": "quantitative", "scale": {"domain": [0, 85951], "reverse": true, "nice": false, "zero": false}, "axis": null}, "y2": {"datum": 0},
  "color": {"field": "dir", "type": "nominal", "scale": {"domain": ["涨", "跌", "平"], "range": ["#ee1c1c", "#17893a", "#222222"]}, "legend": null}}}
]
}
]
}
